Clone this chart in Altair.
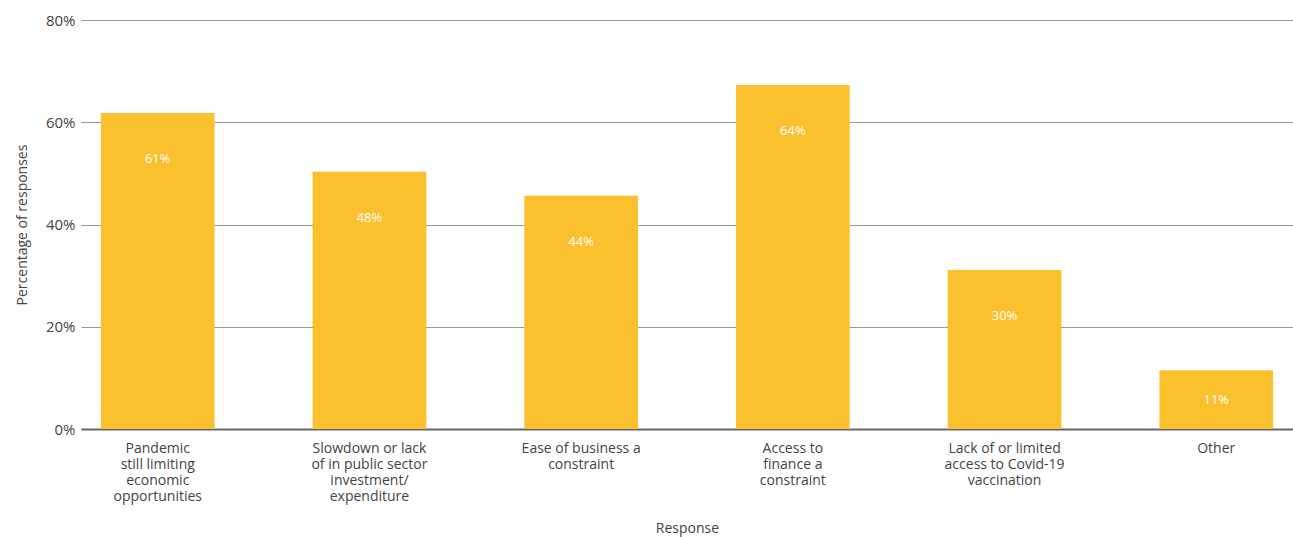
import altair as alt
import pandas as pd

categories = [
    "Pandemic\nstill limiting\neconomic\nopportunities",
    "Slowdown or lack\nof in public sector\ninvestment/\nexpenditure",
    "Ease of business a\nconstraint",
    "Access to\nfinance a\nconstraint",
    "Lack of or limited\naccess to Covid-19\nvaccination",
    "Other",
]
bar_values = [61.8, 50.3, 45.6, 67.3, 31.1, 11.5]
label_texts = ["61%", "48%", "44%", "64%", "30%", "11%"]

df = pd.DataFrame({"cat": categories, "value": bar_values, "label": label_texts})

FONT = "Open Sans"
x = alt.X(
    "cat:N",
    sort=categories,
    title="Response",
    scale=alt.Scale(paddingInner=0.463, paddingOuter=0.094),
    axis=alt.Axis(
        labelAngle=0,
        labelExpr="split(datum.value, '\\n')",
        labelFont=FONT,
        labelFontSize=14,
        labelColor="#444444",
        labelLineHeight=16,
        labelPadding=12,
        labelBaseline="top",
        ticks=False,
        domainColor="#666666",
        domainWidth=2,
        titleFont=FONT,
        titleFontSize=14,
        titleFontWeight="normal",
        titleColor="#444444",
        titlePadding=18,
    ),
)

bars = alt.Chart(df).mark_bar(color="#FBC02D").encode(
    x=x,
    y=alt.Y(
        "value:Q",
        title="Percentage of responses",
        scale=alt.Scale(domain=[0, 80]),
        axis=alt.Axis(
            values=[0, 20, 40, 60, 80],
            labelExpr="datum.value + '%'",
            labelFont=FONT,
            labelFontSize=15,
            labelColor="#444444",
            labelPadding=6,
            ticks=False,
            domain=False,
            grid=True,
            gridColor="#999999",
            gridWidth=1,
            titleFont=FONT,
            titleFontSize=14,
            titleFontWeight="normal",
            titleColor="#444444",
            titlePadding=16,
        ),
    ),
)

text = alt.Chart(df).transform_calculate(
    ly="max(datum.value - 9, datum.value / 2)"
).mark_text(color="white", font=FONT, fontSize=13, baseline="middle").encode(
    x=alt.X("cat:N", sort=categories),
    y=alt.Y("ly:Q"),
    text="label:N",
)

chart = (
    alt.layer(bars, text)
    .properties(
        width=1212,
        height=409,
        autosize=alt.AutoSizeParams(type="none"),
        padding={"left": 81, "top": 20, "right": 0, "bottom": 108},
    )
    .configure_view(stroke=None)
)

chart.save("out.html", embed_options={"renderer": "svg", "actions": False})
